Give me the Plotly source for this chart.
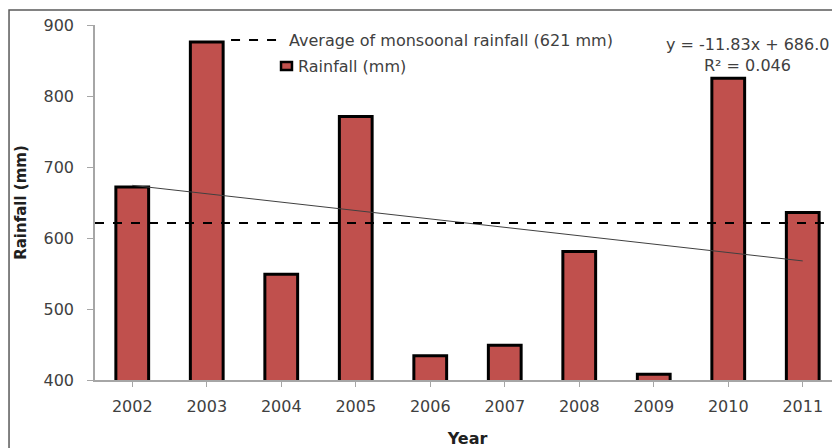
import plotly.graph_objects as go

years = ["2002", "2003", "2004", "2005", "2006", "2007", "2008", "2009", "2010", "2011"]
rainfall = [672, 876, 549, 771, 434, 449, 581, 408, 825, 636]
average_rainfall = 621
trend_slope = -11.83
trend_intercept = 686.0
r_squared = 0.046
y_ticks = [400, 500, 600, 700, 800, 900]

trend_y = [trend_intercept + trend_slope * (i + 1) for i in range(len(years))]

FONT = "DejaVu Sans"
TXT = "#404040"

fig = go.Figure()
fig.add_trace(go.Bar(
    x=years, y=rainfall, name="Rainfall (mm)",
    marker=dict(color="#C0504D", line=dict(color="black", width=3)),
    showlegend=False,
))
fig.add_trace(go.Scatter(
    x=[years[0], years[-1]], y=[trend_y[0], trend_y[-1]], mode="lines",
    line=dict(color="#404040", width=1), showlegend=False, hoverinfo="skip",
))

# average line
fig.add_shape(type="line", xref="paper", yref="y", x0=0, x1=1,
              y0=average_rainfall, y1=average_rainfall,
              line=dict(color="black", width=2, dash="dash"))

# outer frame
fig.add_shape(type="rect", xref="paper", yref="paper",
              x0=-0.1154, x1=1.05, y0=-0.3, y1=1.042,
              line=dict(color="#595959", width=1.5), layer="below")

# custom legend
fig.add_shape(type="line", xref="paper", yref="paper",
              x0=0.1826, x1=0.2456, y0=0.9577, y1=0.9577,
              line=dict(color="black", width=2, dash="dash"))
fig.add_annotation(xref="paper", yref="paper", x=0.2577, y=0.9577,
                   xanchor="left", yanchor="middle", showarrow=False,
                   text=f"Average of monsoonal rainfall ({average_rainfall} mm)",
                   font=dict(family=FONT, size=16, color=TXT))
fig.add_shape(type="rect", xref="paper", yref="paper",
              x0=0.2497, x1=0.2644, y0=0.8732, y1=0.8958,
              fillcolor="#C0504D", line=dict(color="black", width=2.5))
fig.add_annotation(xref="paper", yref="paper", x=0.2698, y=0.8845,
                   xanchor="left", yanchor="middle", showarrow=False,
                   text="Rainfall (mm)",
                   font=dict(family=FONT, size=16, color=TXT))

# trend equation
fig.add_annotation(xref="paper", yref="paper", x=0.8765, y=0.9437,
                   xanchor="center", yanchor="middle", showarrow=False,
                   text=f"y = {trend_slope}x + {trend_intercept:.1f}",
                   font=dict(family=FONT, size=16, color=TXT))
fig.add_annotation(xref="paper", yref="paper", x=0.8765, y=0.8873,
                   xanchor="center", yanchor="middle", showarrow=False,
                   text=f"R² = {r_squared}",
                   font=dict(family=FONT, size=16, color=TXT))

# page body has an 8px margin: size the figure to fill the rest of the window
fig.update_layout(
    width=832, height=440,
    margin=dict(l=87, r=0, t=17, b=68),
    paper_bgcolor="white", plot_bgcolor="white",
    bargap=0.56,
    font=dict(family=FONT, color=TXT, size=15),
    xaxis=dict(
        type="category", range=[-0.5, 9.5],
        showline=True, linecolor="#A6A6A6", linewidth=1.5,
        ticks="outside", ticklen=5, tickcolor="#A6A6A6",
        ticklabelstandoff=6,
        tickfont=dict(family=FONT, size=16, color=TXT),
        title=dict(text="<b>Year</b>", standoff=18,
                   font=dict(family=FONT, size=16, color="#202020")),
        showgrid=False, zeroline=False,
    ),
    yaxis=dict(
        range=[400, 900], tickvals=y_ticks,
        showline=True, linecolor="#A6A6A6", linewidth=1.5,
        ticks="outside", ticklen=6, tickcolor="#A6A6A6",
        ticklabelstandoff=10,
        tickfont=dict(family=FONT, size=16, color=TXT),
        title=dict(text="<b>Rainfall (mm)</b>", standoff=13,
                   font=dict(family=FONT, size=15, color="#202020")),
        showgrid=False, zeroline=False,
    ),
)

fig.write_html("out.html")
